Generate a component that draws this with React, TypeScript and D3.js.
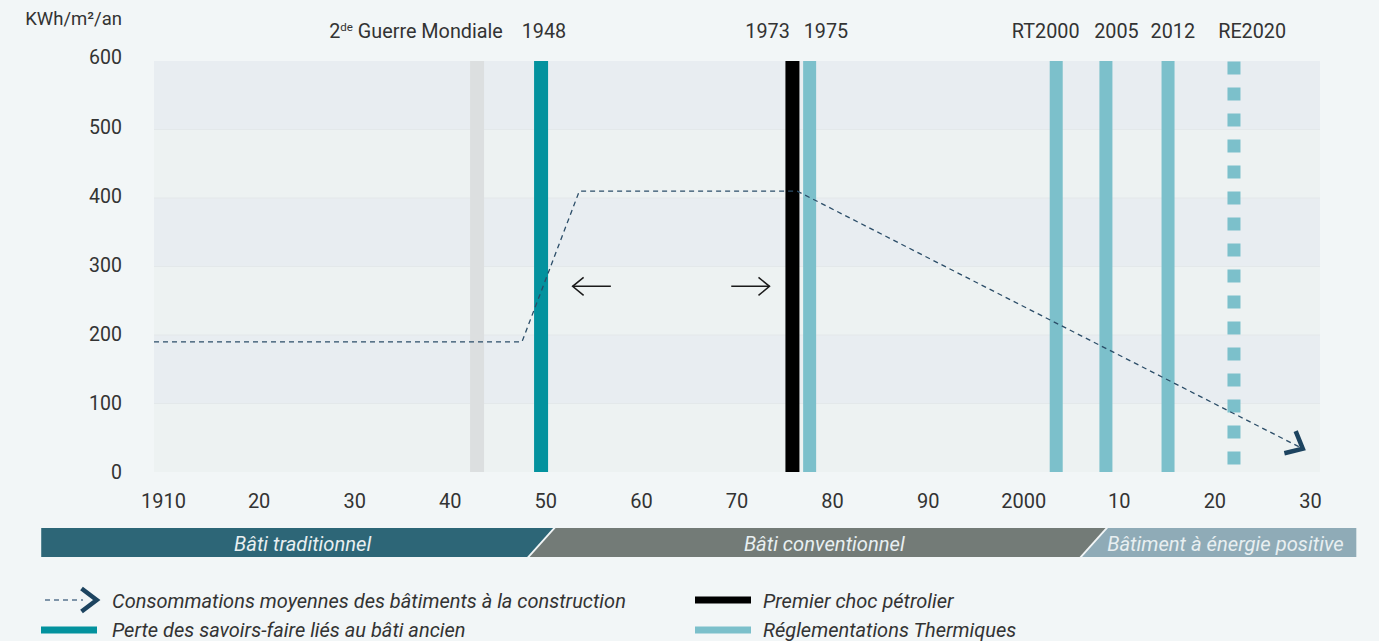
import React from 'react';
import * as d3 from 'd3';

// ---------- DATA ----------
const curveYears = [1909, 1947.5, 1953.5, 1976.3, 2029.2];
const curveValues = [190, 190, 410, 410, 34];

const markerYears = [1942.8, 1949.5, 1975.8, 1977.6, 2003.4, 2008.6, 2015.1, 2022.0];
const markerKinds = ['war', 'loss', 'oil', 'rt', 'rt', 'rt', 'rt', 'rtDashed'];
const markerLabels = ['2de Guerre Mondiale', '1948', '1973', '1975', 'RT2000', '2005', '2012', 'RE2020'];
const markerLabelYears = [1945.5, 1949.8, 1973.2, 1979.3, 2002.3, 2009.7, 2015.6, 2023.9];

const arrowFrom = [1956.8, 1969.4];
const arrowTo = [1952.8, 1973.4];
const arrowValue = [271, 271];

const xTickYears = [1910, 1920, 1930, 1940, 1950, 1960, 1970, 1980, 1990, 2000, 2010, 2020, 2030];
const xTickLabels = ['1910', '20', '30', '40', '50', '60', '70', '80', '90', '2000', '10', '20', '30'];
const yTickValues = [0, 100, 200, 300, 400, 500, 600];
const yUnit = 'KWh/m²/an';

const eraNames = ['Bâti traditionnel', 'Bâti conventionnel', 'Bâtiment à énergie positive'];
const eraBounds = [1897.2, 1949.4, 2007.2, 2034.8];

const legendLabels = [
  'Consommations moyennes des bâtiments à la construction',
  'Perte des savoirs-faire liés au bâti ancien',
  'Premier choc pétrolier',
  'Réglementations Thermiques',
];
const legendKinds = ['curve', 'loss', 'oil', 'rt'];

// ---------- STYLE ----------
const W = 1379;
const H = 641;
const FONT = "Roboto, 'Liberation Sans', sans-serif";
const BG = '#f2f6f7';
const BAND_DARK = '#e8edf1';
const BAND_LIGHT = '#edf2f2';
const TEXT = '#333';
const NAVY = '#1d4460';
const kindColor: Record<string, string> = {
  war: '#dcdfe0',
  loss: '#03929e',
  oil: '#000000',
  rt: '#7cc0cb',
  rtDashed: '#7cc0cb',
};
const kindWidth: Record<string, number> = { war: 14, loss: 14, oil: 14, rt: 13, rtDashed: 13 };
const eraColors = ['#2d6677', '#737b77', '#8fabb7'];
const eraTextDx = [12, 8, 1];

function chevron(tx: number, ty: number, ang: number, len: number, spread: number) {
  const a1 = ang + Math.PI - spread;
  const a2 = ang + Math.PI + spread;
  return `M${tx + len * Math.cos(a1)},${ty + len * Math.sin(a1)}L${tx},${ty}L${tx + len * Math.cos(a2)},${ty + len * Math.sin(a2)}`;
}

export default function App() {
  const x = d3.scaleLinear().domain([1909, 2031]).range([154, 1320]);
  const y = d3.scaleLinear().domain([0, 600]).range([472, 61]);
  const [x0, x1] = x.range();

  const pts: [number, number][] = curveYears.map((yr, i) => [x(yr), y(curveValues[i])]);
  const line = d3.line<[number, number]>().x((d) => d[0]).y((d) => d[1]);
  const last = pts[pts.length - 1];
  const prev = pts[pts.length - 2];
  const endAng = Math.atan2(last[1] - prev[1], last[0] - prev[0]);

  const bandTop = 528;
  const bandBot = 557;
  const slant = 13;
  const gap = 2.5;
  const eraPolys = eraNames.map((_, i) => {
    const l = x(eraBounds[i]);
    const r = x(eraBounds[i + 1]);
    const first = i === 0;
    const lastE = i === eraNames.length - 1;
    const tl = first ? l : l + slant + gap;
    const bl = first ? l : l - slant + gap;
    const tr = lastE ? r : r + slant;
    const br = lastE ? r : r - slant;
    return `M${tl},${bandTop}L${tr},${bandTop}L${br},${bandBot}L${bl},${bandBot}Z`;
  });

  const legendPos = [
    { x: 41, y: 600 },
    { x: 41, y: 630 },
    { x: 695, y: 600 },
    { x: 695, y: 630 },
  ];

  return (
    <svg
      width={W}
      height={H}
      style={{ position: 'absolute', left: 0, top: 0, fontFamily: FONT }}
    >
      <rect x={0} y={0} width={W} height={H} fill={BG} />

      {/* bands */}
      {yTickValues.slice(0, -1).map((v, i) => (
        <rect
          key={'b' + v}
          x={x0}
          y={y(v + 100)}
          width={x1 - x0}
          height={y(v) - y(v + 100)}
          fill={i % 2 === 1 ? BAND_DARK : BAND_LIGHT}
        />
      ))}
      {yTickValues.slice(1, -1).map((v) => (
        <line key={'g' + v} x1={x0} x2={x1} y1={y(v)} y2={y(v)} stroke="#e3e8ea" strokeWidth={1} />
      ))}

      {/* y ticks */}
      {yTickValues.map((v) => (
        <text
          key={'yt' + v}
          x={122}
          y={y(v) - (v / 100) * 0.6 + 7}
          textAnchor="end"
          fontSize={19.5}
          fill={TEXT}
        >
          {v}
        </text>
      ))}
      <text x={122} y={25} textAnchor="end" fontSize={18.5} fill={TEXT}>
        {yUnit}
      </text>

      {/* markers */}
      {markerYears.map((yr, i) => {
        const k = markerKinds[i];
        const w = kindWidth[k];
        if (k === 'rtDashed') {
          return (
            <line
              key={'m' + i}
              x1={x(yr)}
              x2={x(yr)}
              y1={y(600) + 0.5}
              y2={y(0)}
              stroke={kindColor[k]}
              strokeWidth={w}
              strokeDasharray="13 13"
            />
          );
        }
        return (
          <rect
            key={'m' + i}
            x={x(yr) - w / 2}
            y={y(600)}
            width={w}
            height={y(0) - y(600)}
            fill={kindColor[k]}
          />
        );
      })}

      {/* marker labels */}
      {markerLabels.map((lab, i) => {
        const isWar = lab.startsWith('2de');
        return (
          <text
            key={'ml' + i}
            x={x(markerLabelYears[i])}
            y={38}
            textAnchor={isWar ? 'end' : 'middle'}
            fontSize={19.8}
            fill={TEXT}
          >
            {isWar ? (
              <>
                <tspan>2</tspan>
                <tspan fontSize={11.5} dy={-7}>de</tspan>
                <tspan dy={7}>{' ' + lab.slice(4)}</tspan>
              </>
            ) : (
              lab
            )}
          </text>
        );
      })}

      {/* curve */}
      <path d={line(pts) || ''} fill="none" stroke="#2b4d68" strokeWidth={1.3} strokeDasharray="5 4" />
      <path
        d={chevron(last[0], last[1], endAng, 19, (41 * Math.PI) / 180)}
        fill="none"
        stroke={NAVY}
        strokeWidth={4.5}
      />

      {/* horizontal arrows */}
      {arrowFrom.map((f, i) => {
        const sx = x(f);
        const ex = x(arrowTo[i]);
        const yy = y(arrowValue[i]);
        const dir = ex > sx ? 1 : -1;
        return (
          <g key={'a' + i} stroke="#1a1a1a" strokeWidth={1.5} fill="none">
            <line x1={sx} x2={ex} y1={yy} y2={yy} />
            <path d={`M${ex - dir * 11},${yy - 9}L${ex},${yy}L${ex - dir * 11},${yy + 9}`} />
          </g>
        );
      })}

      {/* x ticks */}
      {xTickYears.map((yr, i) => (
        <text key={'xt' + yr} x={x(yr)} y={508} textAnchor="middle" fontSize={20} fill={TEXT}>
          {xTickLabels[i]}
        </text>
      ))}

      {/* eras */}
      {eraNames.map((name, i) => {
        const cx = (x(eraBounds[i]) + x(eraBounds[i + 1])) / 2 + eraTextDx[i];
        return (
          <g key={'e' + i}>
            <path d={eraPolys[i]} fill={eraColors[i]} />
            <text
              x={cx}
              y={551}
              textAnchor="middle"
              fontSize={20.2}
              fontStyle="italic"
              fill="#e8eff1"
            >
              {name}
            </text>
          </g>
        );
      })}

      {/* legend */}
      {legendLabels.map((lab, i) => {
        const p = legendPos[i];
        const k = legendKinds[i];
        return (
          <g key={'l' + i}>
            {k === 'curve' ? (
              <>
                <line x1={p.x + 4} x2={p.x + 42} y1={p.y} y2={p.y} stroke="#5a7690" strokeWidth={1.5} strokeDasharray="5 4" />
                <path d={chevron(p.x + 55.7, p.y, 0, 19, (37 * Math.PI) / 180)} fill="none" stroke={NAVY} strokeWidth={4.5} />
              </>
            ) : (
              <rect x={p.x} y={p.y - 3.5} width={56} height={7} fill={kindColor[k]} />
            )}
            <text
              x={i < 2 ? p.x + 71 : p.x + 68}
              y={p.y + (i % 2 === 1 ? 6.5 : 8)}
              fontSize={20}
              fontStyle="italic"
              fill={TEXT}
            >
              {lab}
            </text>
          </g>
        );
      })}
    </svg>
  );
}
